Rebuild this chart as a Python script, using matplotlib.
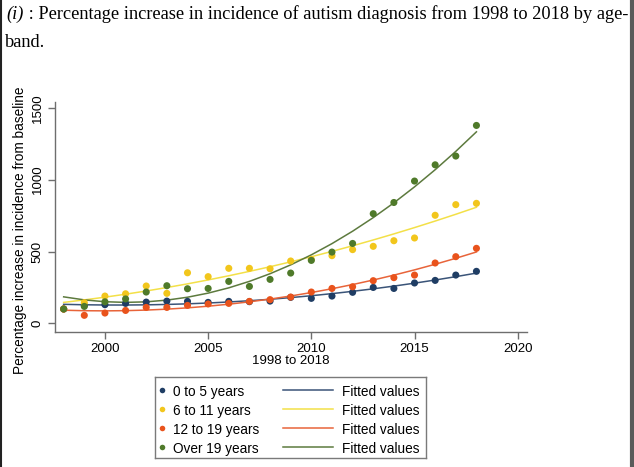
import matplotlib

matplotlib.use("Agg")
import matplotlib.pyplot as plt
import numpy as np
from matplotlib.lines import Line2D

years = np.arange(1998, 2019)

age_0_5 = [100, 125, 130, 139, 148, 155, 153, 146, 153, 151, 155,
           181, 174, 190, 216, 250, 243, 281, 299, 336, 362]
age_6_11 = [100, 144, 190, 206, 260, 209, 352, 325, 383, 383, 380,
            434, 445, 471, 513, 536, 575, 594, 752, 826, 835]
age_12_19 = [100, 56, 72, 90, 111, 111, 125, 135, 139, 153, 165,
             183, 218, 243, 255, 297, 318, 336, 420, 464, 522]
age_over_19 = [100, 118, 150, 170, 218, 262, 241, 243, 292, 257, 306,
               350, 438, 496, 556, 763, 841, 990, 1103, 1164, 1377]

series_labels = ["0 to 5 years", "6 to 11 years", "12 to 19 years", "Over 19 years"]
marker_colors = ["#1f3d64", "#f2c61c", "#e9531c", "#4f7a2a"]
line_colors = ["#3a5478", "#f3e048", "#e8643a", "#5d7a3e"]

x_ticks = [2000, 2005, 2010, 2015, 2020]
y_ticks = [0, 500, 1000, 1500]

W, H = 634, 467
fig = plt.figure(figsize=(W / 100, H / 100), dpi=100)

sans = "Liberation Sans"
serif = "Liberation Serif"

# caption above the chart
fig.text(6 / W, 1 - 19 / H, "(i)", family=serif, style="italic", fontsize=13.2,
         va="baseline")
fig.text(24 / W, 1 - 19 / H,
         " : Percentage increase in incidence of autism diagnosis from 1998 to 2018 by age-",
         family=serif, fontsize=13.2, va="baseline")
fig.text(5 / W, 1 - 47 / H, "band.", family=serif, fontsize=13.2, va="baseline")

ax = fig.add_axes([55 / W, 1 - 332 / H, 472 / W, 230 / H])
all_series = [age_0_5, age_6_11, age_12_19, age_over_19]
for vals, mc, lc in zip(all_series, marker_colors, line_colors):
    coef = np.polyfit(years, vals, 2)
    ax.plot(years, np.polyval(coef, years), color=lc, lw=1.1, zorder=2)
    ax.scatter(years, vals, s=26, color=mc, edgecolor="none", zorder=3)

ax.set_xlim(1997.58, 2020.45)
ax.set_ylim(-60, 1540)
ax.set_xticks(x_ticks)
ax.set_yticks(y_ticks)
ax.set_yticklabels([str(v) for v in y_ticks], rotation=90, va="center")
for s in ("top", "right"):
    ax.spines[s].set_visible(False)
for s in ("left", "bottom"):
    ax.spines[s].set_color("#6e6e6e")
    ax.spines[s].set_linewidth(1.0)
ax.tick_params(colors="#6e6e6e", labelcolor="black", length=5, width=1.0,
               labelsize=9.5, pad=3)
for t in ax.get_xticklabels() + ax.get_yticklabels():
    t.set_family(sans)
ax.set_xlabel("1998 to 2018", family=sans, fontsize=9.5, labelpad=0)
ax.set_ylabel("Percentage increase in incidence from baseline", family=sans,
              fontsize=9.8)
ax.yaxis.set_label_coords(-28 / 472, 0.443)

# legend box drawn by hand (Stata-style two-column key)
lx0, ly0, lx1, ly1 = 155, 377, 426, 458
lax = fig.add_axes([lx0 / W, 1 - ly1 / H, (lx1 - lx0) / W, (ly1 - ly0) / H])
lax.set_xlim(lx0, lx1)
lax.set_ylim(ly1, ly0)
lax.set_xticks([])
lax.set_yticks([])
for s in lax.spines.values():
    s.set_color("#7a7a7a")
    s.set_linewidth(1.0)
rows = [390, 409, 428, 447]
for ry, mc, lc, lab in zip(rows, marker_colors, line_colors, series_labels):
    lax.plot([162], [ry], "o", ms=4, color=mc, mec="none")
    lax.text(173, ry, lab, family=sans, fontsize=9.8, va="center_baseline")
    lax.plot([283, 333], [ry, ry], color=lc, lw=1.1)
    lax.text(342, ry, "Fitted values", family=sans, fontsize=9.8,
             va="center_baseline")

# page borders of the screenshot
fig.add_artist(Line2D([1 / W, 1 / W], [0, 1], color="#222222", lw=1.5))
fig.add_artist(Line2D([631.5 / W, 631.5 / W], [0, 1], color="#5a5a5a", lw=3))

fig.savefig("out.png", dpi=100)
